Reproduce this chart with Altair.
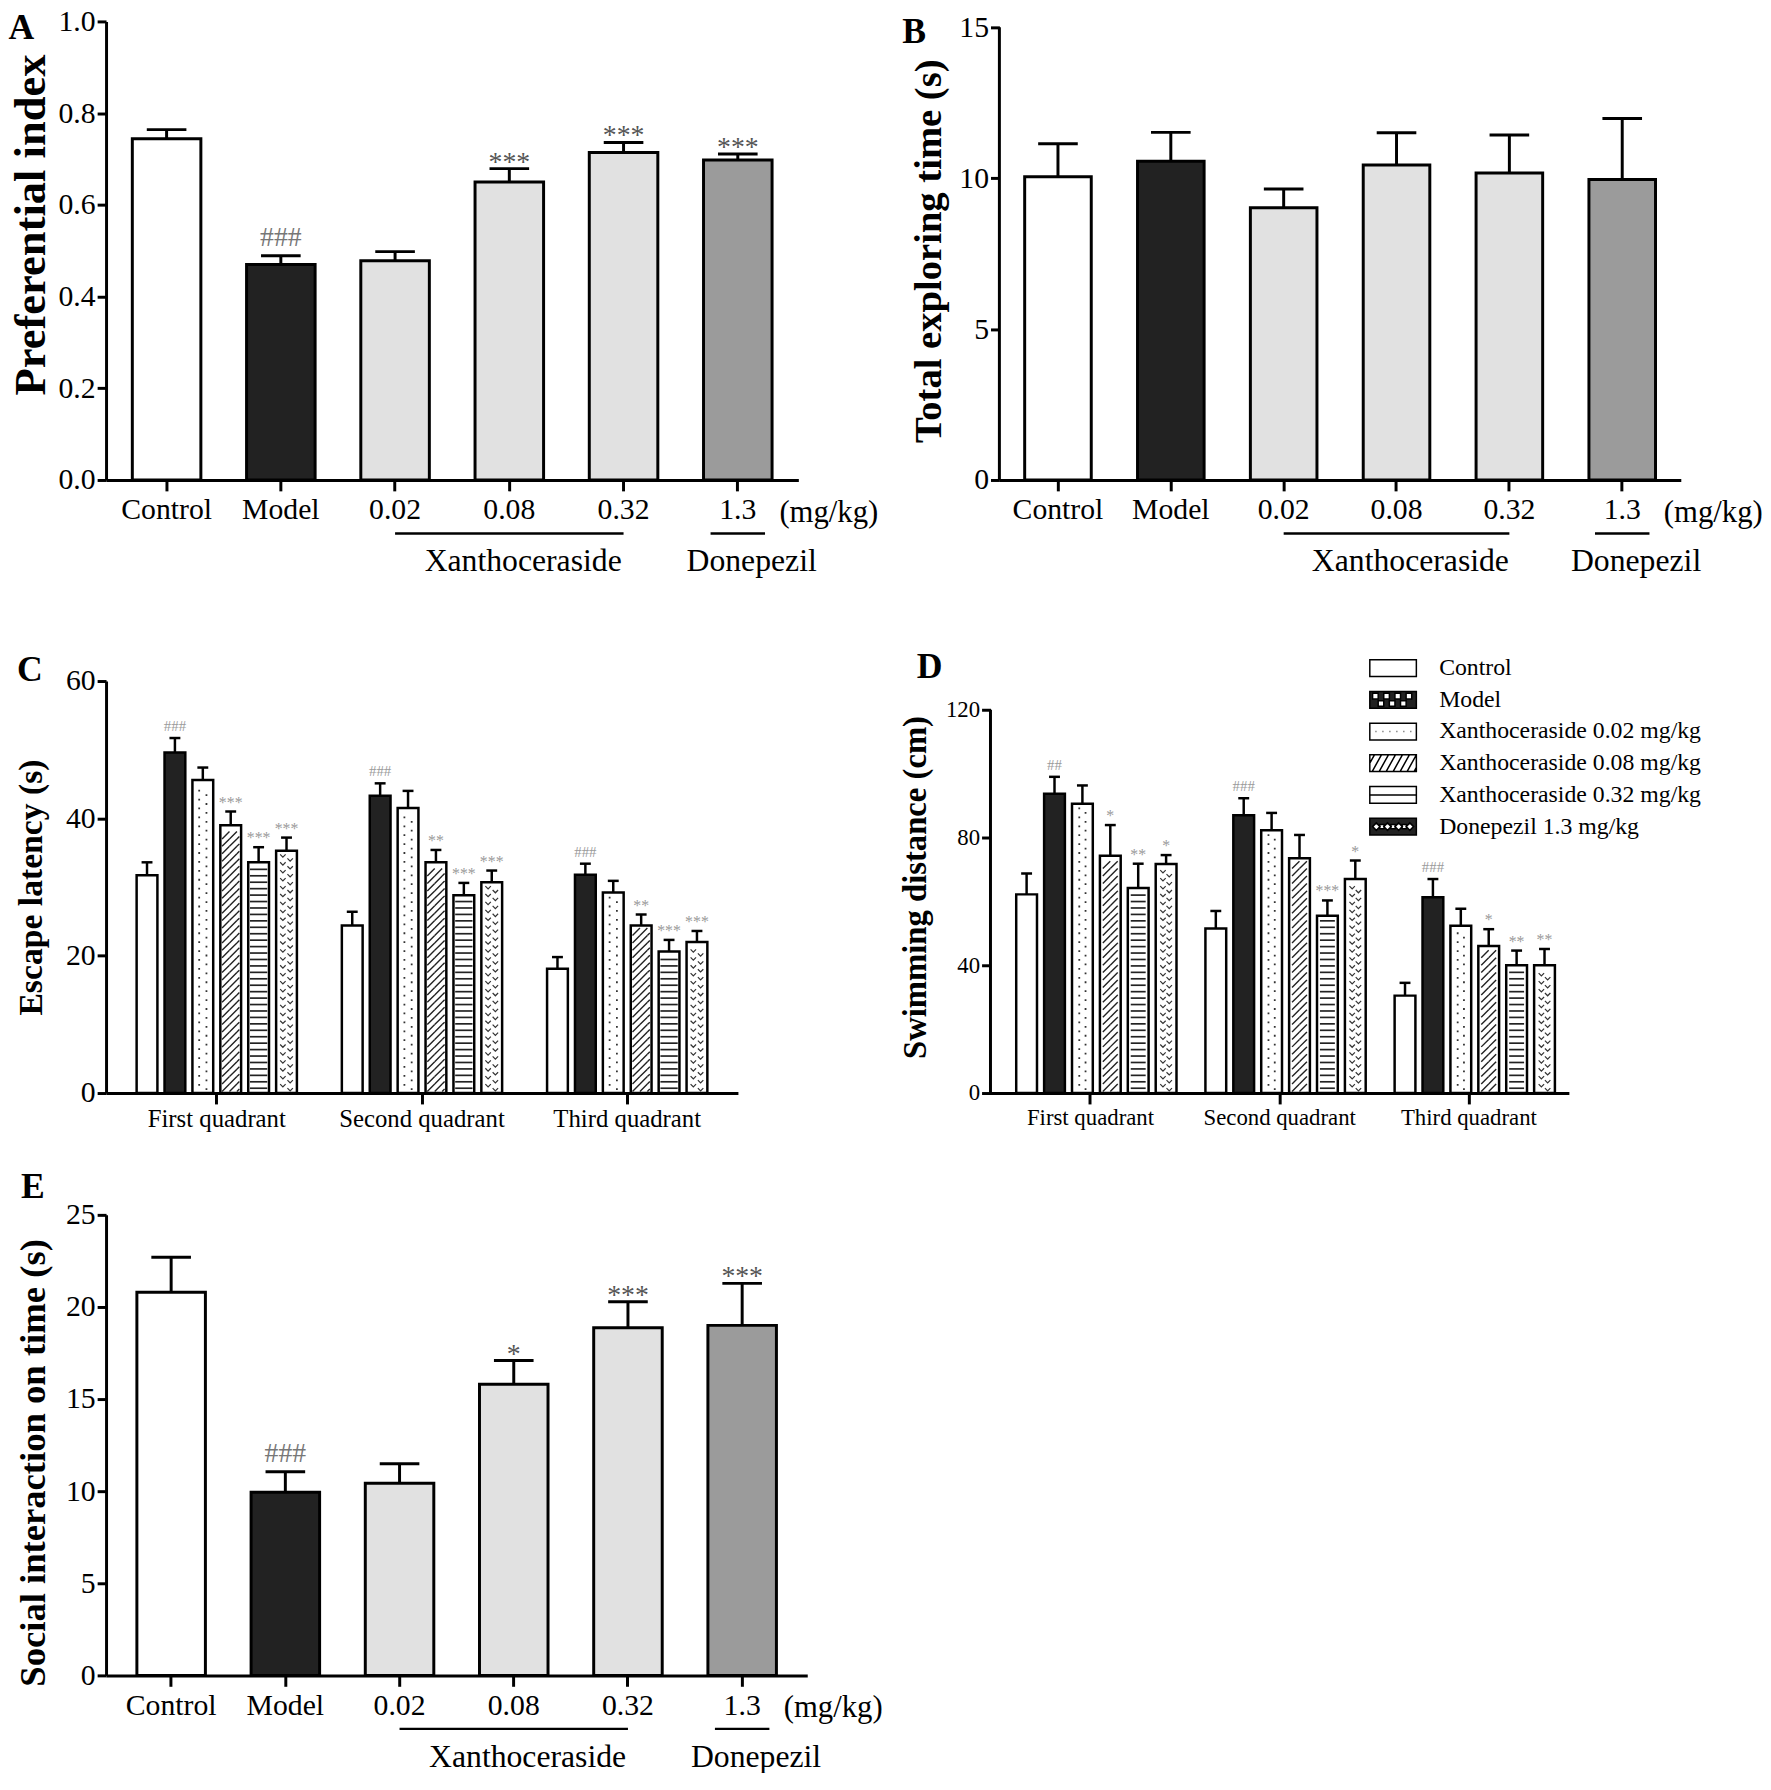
import altair as alt
import pandas as pd

SERIF = "Liberation Serif"

# ---------------- data: panels A, B, E ----------------
cats = ["Control", "Model", "0.02", "0.08", "0.32", "1.3"]
kinds = ["control", "model", "xan", "xan", "xan", "don"]
kind_keys = ["control", "model", "xan", "don"]
kind_fill = ["#ffffff", "#222222", "#e1e1e1", "#9b9b9b"]

a_mean = [0.744, 0.470, 0.478, 0.650, 0.714, 0.698]
a_err = [0.020, 0.019, 0.020, 0.029, 0.022, 0.013]
a_sig = ["", "###", "", "***", "***", "***"]

b_mean = [10.05, 10.56, 9.02, 10.44, 10.17, 9.96]
b_err = [1.09, 0.96, 0.62, 1.07, 1.26, 2.02]
b_sig = ["", "", "", "", "", ""]

e_mean = [20.80, 9.94, 10.43, 15.81, 18.87, 19.00]
e_err = [1.90, 1.12, 1.06, 1.28, 1.41, 2.28]
e_sig = ["", "###", "", "*", "***", "***"]

xan_span = ["0.02", "0.32"]
group_label_pos = ["0.08", "1.3"]
group_label_text = ["Xanthoceraside", "Donepezil"]
don_cat = "1.3"
unit_text = "(mg/kg)"

# ---------------- data: panels C, D ----------------
quadrants = ["First quadrant", "Second quadrant", "Third quadrant"]
groups = ["Control", "Model", "Xanthoceraside 0.02 mg/kg", "Xanthoceraside 0.08 mg/kg",
          "Xanthoceraside 0.32 mg/kg", "Donepezil 1.3 mg/kg"]
group_fill = ["#ffffff", "#222222", "#ffffff", "#ffffff", "#ffffff", "#ffffff"]
legend_fill = ["#ffffff", "#222222", "#ffffff", "#ffffff", "#ffffff", "#222222"]

c_mean = [[31.7, 24.4, 18.1], [49.6, 43.3, 31.8], [45.6, 41.5, 29.2],
          [39.0, 33.6, 24.4], [33.6, 28.8, 20.6], [35.3, 30.7, 22.0]]
c_err = [[1.9, 2.0, 1.7], [2.1, 1.8, 1.6], [1.8, 2.5, 1.7],
         [2.0, 1.8, 1.6], [2.2, 1.8, 1.7], [1.9, 1.7, 1.6]]
c_sig = [["", "", ""], ["###", "###", "###"], ["", "", ""],
         ["***", "**", "**"], ["***", "***", "***"], ["***", "***", "***"]]

d_mean = [[62.2, 51.5, 30.5], [93.7, 87.0, 61.3], [90.6, 82.3, 52.4],
          [74.3, 73.5, 46.0], [64.2, 55.5, 40.0], [71.7, 67.0, 40.0]]
d_err = [[6.5, 5.5, 4.0], [5.3, 5.3, 5.7], [5.7, 5.4, 5.3],
         [9.6, 7.3, 5.3], [7.6, 4.8, 4.6], [2.8, 5.8, 5.1]]
d_sig = [["", "", ""], ["##", "###", "###"], ["", "", ""],
         ["*", "", "*"], ["**", "***", "**"], ["*", "*", "**"]]


# ---------------- helpers ----------------
def y_axis(title, values, fmt, title_size, title_pad, label_size, domain=True, title_y=None):
    kw = {}
    if title_y is not None:
        kw["titleY"] = title_y
    return alt.Axis(title=title, values=values, format=fmt, grid=False, domain=domain,
                    titleFont=SERIF, titleFontSize=title_size, titleFontWeight="bold",
                    titleColor="black", titlePadding=title_pad,
                    labelFont=SERIF, labelFontSize=label_size, labelColor="black",
                    labelPadding=2, tickSize=9, tickWidth=3, tickColor="black",
                    domainWidth=3, domainColor="black", **kw)


def letter_title(letter, dx, dy):
    return alt.TitleParams(letter, anchor="start", frame="bounds", orient="top",
                           font=SERIF, fontSize=36, fontWeight="bold", color="black",
                           baseline="alphabetic", offset=0, dx=dx, dy=dy)


def axis_line(Y, ymax):
    # y axis line running from 0 up to the top tick only
    return alt.Chart(pd.DataFrame({"lo": [0], "hi": [ymax]})).mark_rule(
        color="black", strokeWidth=3).encode(x=alt.value(0), y=Y("lo"), y2=alt.Y2("hi"))


def simple_panel(letter, mean, err, sig, ytitle, ymax, dmax, yvalues, yfmt, W, H, pi, po,
                 title_size, title_pad, ldx, ldy, title_y=None):
    df = pd.DataFrame({"cat": cats, "kind": kinds, "mean": mean,
                       "top": [m + e for m, e in zip(mean, err)], "sig": sig})
    xscale = alt.Scale(domain=cats, paddingInner=pi, paddingOuter=po)
    xaxis = alt.Axis(title=None, labelAngle=0, labelFont=SERIF, labelFontSize=30,
                     labelColor="black", labelPadding=4, tickSize=11, tickWidth=3,
                     tickColor="black", domainWidth=3, domainColor="black", grid=False,
                     zindex=1)

    def X(f):
        return alt.X(f"{f}:N", sort=cats, scale=xscale, axis=xaxis)

    yscale = alt.Scale(domain=[0, dmax], nice=False)
    yaxis = y_axis(ytitle, yvalues, yfmt, title_size, title_pad, 30, domain=(dmax == ymax),
                   title_y=title_y)

    def Y(f):
        return alt.Y(f"{f}:Q", scale=yscale, axis=yaxis)

    base = alt.Chart(df)
    bars = base.mark_bar(stroke="black", strokeWidth=3).encode(
        x=X("cat"), y=Y("mean"),
        color=alt.Color("kind:N", scale=alt.Scale(domain=kind_keys, range=kind_fill), legend=None))
    errl = base.mark_rule(color="black", strokeWidth=3).encode(x=X("cat"), y=Y("mean"), y2=alt.Y2("top"))
    caps = base.mark_tick(orient="horizontal", size=40, thickness=3, color="black", opacity=1).encode(
        x=X("cat"), y=Y("top"))
    hashes = base.transform_filter("indexof(datum.sig, '#') >= 0").mark_text(
        font=SERIF, fontSize=28, color="#777777", baseline="alphabetic", dy=-10).encode(
        x=X("cat"), y=Y("top"), text="sig:N")
    stars = base.transform_filter("indexof(datum.sig, '*') >= 0").mark_text(
        font=SERIF, fontSize=28, color="#555555", baseline="alphabetic", dy=2).encode(
        x=X("cat"), y=Y("top"), text="sig:N")

    span = alt.Chart(pd.DataFrame({"start": [xan_span[0]], "end": [xan_span[1]]})).mark_rule(
        color="black", strokeWidth=2.5).encode(x=X("start"), x2=alt.X2("end"), y=alt.value(H + 54))
    don_line = alt.Chart(pd.DataFrame({"cat": [don_cat]})).mark_tick(
        orient="horizontal", size=55, thickness=2.5, color="black", opacity=1).encode(
        x=X("cat"), y=alt.value(H + 54))
    unit = alt.Chart(pd.DataFrame({"cat": [don_cat], "t": [unit_text]})).mark_text(
        font=SERIF, fontSize=31, align="left", baseline="middle", dx=42, color="black").encode(
        x=X("cat"), y=alt.value(H + 33), text="t:N")
    glab = alt.Chart(pd.DataFrame({"pos": group_label_pos, "label": group_label_text})).mark_text(
        font=SERIF, fontSize=32, baseline="middle", dx=14, color="black").encode(
        x=X("pos"), y=alt.value(H + 82), text="label:N")

    layers = [bars, errl, caps, hashes, stars, span, don_line, unit, glab]
    if dmax != ymax:
        layers.append(axis_line(Y, ymax))
    return alt.layer(*layers).properties(width=W, height=H, title=letter_title(letter, ldx, ldy))


# ---- pattern shapes (custom symbol paths in the [-1, 1] box) ----
def f3(v):
    return f"{v:.3f}"


def hatch_path(r, hpx):
    H = hpx / r
    parts = []
    x0 = -1 - H
    while x0 < 1:
        t0 = max(0.0, (-1 - x0) / H)
        t1 = min(1.0, (1 - x0) / H)
        if t1 > t0:
            xa, ya = x0 + t0 * H, H / 2 - t0 * H
            xb, yb = x0 + t1 * H, H / 2 - t1 * H
            parts.append(f"M{f3(xa)},{f3(ya)}L{f3(xb)},{f3(yb)}")
        x0 += H
    return "".join(parts)


def dots_path(r, hpx):
    H = hpx / r
    d = 1.8 / r
    pts = [(-0.42, -H / 4), (0.42, H / 4)]
    return "".join(f"M{f3(x - d / 2)},{f3(y - d / 2)}h{f3(d)}v{f3(d)}h{f3(-d)}Z" for x, y in pts)


def chev_path(r, hpx):
    H = hpx / r
    w = 5.5 / r
    hh = 2.8 / r
    pts = [(-0.42, -H / 4), (0.42, H / 4)]
    return "".join(
        f"M{f3(cx - w / 2)},{f3(cy - hh / 2)}L{f3(cx)},{f3(cy + hh / 2)}L{f3(cx + w / 2)},{f3(cy - hh / 2)}"
        for cx, cy in pts)


def legend_paths():
    a = 0.36
    rect = f"M-1,{-a}L1,{-a}L1,{a}L-1,{a}Z"
    holes = ""
    s = 0.24
    for x in [-0.88, -0.40, 0.08, 0.56]:
        holes += f"M{f3(x)},-0.28L{f3(x)},{f3(-0.28 + s)}L{f3(x + s)},{f3(-0.28 + s)}L{f3(x + s)},-0.28Z"
    for x in [-0.64, -0.16, 0.32]:
        holes += f"M{f3(x)},0.04L{f3(x)},{f3(0.04 + s)}L{f3(x + s)},{f3(0.04 + s)}L{f3(x + s)},0.04Z"
    model = rect + holes
    dots = rect + "".join(f"M{f3(x)},0L{f3(x + 0.03)},0" for x in [-0.75, -0.45, -0.15, 0.15, 0.45, 0.75])
    hatch = rect
    x = -1.2
    while x < 1.0:
        xa, ya, xb, yb = x, a, x + 0.4, -a
        if xa < -1:
            t = (-1 - xa) / 0.4
            xa, ya = -1, a - t * 2 * a
        if xb > 1:
            t = (1 - x) / 0.4
            xb, yb = 1, a - t * 2 * a
        hatch += f"M{f3(xa)},{f3(ya)}L{f3(xb)},{f3(yb)}"
        x += 0.3
    hl = rect + "M-1,0L1,0"
    dia = ""
    dd = 0.16
    for cx in [-0.72, -0.24, 0.24, 0.72]:
        dia += f"M{f3(cx)},{f3(-dd)}L{f3(cx - dd)},0L{f3(cx)},{f3(dd)}L{f3(cx + dd)},0Z"
    for cx in [-0.48, 0.0, 0.48]:
        e = 0.09
        dia += f"M{f3(cx - e)},{f3(-e)}L{f3(cx - e)},{f3(e)}L{f3(cx + e)},{f3(e)}L{f3(cx + e)},{f3(-e)}Z"
    don = rect + dia
    return [rect, model, dots, hatch, hl, don]


def grouped_panel(letter, mean, err, sig, ytitle, ymax, dmax, yvalues, W, H, pi, po, pi2,
                  title_size, title_pad, tick_label_size, cat_label_size, ldx, ldy, legend=None):
    rows = []
    for gi, g in enumerate(groups):
        for qi, q in enumerate(quadrants):
            rows.append({"quadrant": q, "group": g, "mean": mean[gi][qi],
                         "top": mean[gi][qi] + err[gi][qi], "sig": sig[gi][qi],
                         "half": mean[gi][qi] / 2})
    df = pd.DataFrame(rows)

    step = W / (3 - pi + 2 * po)
    band = step * (1 - pi)
    step2 = band / (6 - pi2)
    bw = step2 * (1 - pi2)
    pxu = H / dmax
    r = (bw - 3.5) / 2

    xscale = alt.Scale(domain=quadrants, paddingInner=pi, paddingOuter=po)
    xaxis = alt.Axis(title=None, labelAngle=0, labelFont=SERIF, labelFontSize=cat_label_size,
                     labelColor="black", labelPadding=3, tickSize=11, tickWidth=3,
                     tickColor="black", domainWidth=3, domainColor="black", grid=False, zindex=1)
    oscale = alt.Scale(domain=groups, paddingInner=pi2, paddingOuter=0)
    yscale = alt.Scale(domain=[0, dmax], nice=False)
    yaxis = y_axis(ytitle, yvalues, "d", title_size, title_pad, tick_label_size, domain=(dmax == ymax))

    def enc(ch):
        return ch.encode(x=alt.X("quadrant:N", sort=quadrants, scale=xscale, axis=xaxis),
                         xOffset=alt.XOffset("group:N", sort=groups, scale=oscale))

    def Y(f):
        return alt.Y(f"{f}:Q", scale=yscale, axis=yaxis)

    base = alt.Chart(df)
    layers = []
    if legend is not None:
        leg = enc(base.transform_filter(f"datum.quadrant == '{quadrants[0]}'").mark_point(
            filled=True, size=30, strokeWidth=1.5, opacity=1)).encode(
            y=Y("half"),
            fill=alt.Fill("group:N", sort=groups, scale=alt.Scale(domain=groups, range=legend_fill), legend=legend),
            stroke=alt.Stroke("group:N", sort=groups, scale=alt.Scale(domain=groups, range=["#000000"] * 6), legend=legend),
            shape=alt.Shape("group:N", sort=groups, scale=alt.Scale(domain=groups, range=legend_paths()), legend=legend))
        layers.append(leg)

    bars = enc(base.mark_bar(stroke="black", strokeWidth=2.5)).encode(
        y=Y("mean"),
        color=alt.Color("group:N", scale=alt.Scale(domain=groups, range=group_fill), legend=None))
    layers.append(bars)

    # pattern fills drawn from each bar's value
    pattern_spec = [
        (groups[2], dots_path, 9.0, dict(filled=True, color="#333333", strokeWidth=0)),
        (groups[3], hatch_path, 7.5, dict(filled=False, color="#222222", strokeWidth=1.4)),
        (groups[4], lambda rr, h: "M-1,0L1,0", 6.5, dict(filled=False, color="#222222", strokeWidth=1.7)),
        (groups[5], chev_path, 8.0, dict(filled=False, color="#333333", strokeWidth=1.2)),
    ]
    for g, fn, hpx, style in pattern_spec:
        stepd = hpx / pxu
        off = 1.6 / pxu
        prow = []
        for _, rw in df[df.group == g].iterrows():
            k = 0
            while (k + 1) * stepd + off <= rw["mean"] - 1.6 / pxu:
                prow.append({"quadrant": rw["quadrant"], "group": g, "y": (k + 0.5) * stepd + off})
                k += 1
        pch = alt.Chart(pd.DataFrame(prow)).mark_point(
            shape=fn(r, hpx), size=(2 * r) ** 2, opacity=1, **style)
        layers.append(enc(pch).encode(y=Y("y")))

    errl = enc(base.mark_rule(color="black", strokeWidth=2.5)).encode(y=Y("mean"), y2=alt.Y2("top"))
    caps = enc(base.mark_tick(orient="horizontal", size=11, thickness=2.5, color="black", opacity=1)).encode(
        y=Y("top"))
    hashes = enc(base.transform_filter("indexof(datum.sig, '#') >= 0").mark_text(
        font=SERIF, fontSize=15, color="#9a9a9a", baseline="alphabetic", dy=-7)).encode(
        y=Y("top"), text="sig:N")
    stars = enc(base.transform_filter("indexof(datum.sig, '*') >= 0").mark_text(
        font=SERIF, fontSize=16, color="#9a9a9a", baseline="alphabetic", dy=-4)).encode(
        y=Y("top"), text="sig:N")
    layers += [errl, caps, hashes, stars]
    if dmax != ymax:
        layers.append(axis_line(Y, ymax))

    return alt.layer(*layers).properties(width=W, height=H, title=letter_title(letter, ldx, ldy))


def independent(ch):
    return ch.resolve_scale(color="independent", fill="independent", shape="independent",
                            stroke="independent").resolve_legend(
        color="independent", fill="independent", shape="independent", stroke="independent")


# ---------------- panels ----------------
A = simple_panel("A", a_mean, a_err, a_sig, "Preferential index", 1.0, 1.0,
                 [0, 0.2, 0.4, 0.6, 0.8, 1.0], ".1f", 699, 463, 0.40, 0.23, 45, 5, 0, 69,
                 title_y=205)
B = simple_panel("B", b_mean, b_err, b_sig, "Total exploring time (s)", 15, 15 * 463 / 457,
                 [0, 5, 10, 15], "d", 688, 463, 0.41, 0.224, 39, 10, -8, 67)
E = simple_panel("E", e_mean, e_err, e_sig, "Social interaction on time (s)", 25, 25,
                 [0, 5, 10, 15, 20, 25], "d", 708, 465, 0.40, 0.27, 37, 13, 6, 34,
                 title_y=250)

d_legend = alt.Legend(title=None, orient="none", legendX=382, legendY=-24,
                      labelFont=SERIF, labelFontSize=24, labelColor="black", labelLimit=0,
                      symbolSize=2209, symbolStrokeWidth=1.5,
                      clipHeight=22, rowPadding=8, labelOffset=22, symbolOffset=0, padding=0)

C = grouped_panel("C", c_mean, c_err, c_sig, "Escape latency (s)", 60, 60, [0, 20, 40, 60],
                  638, 416, 0.219, 0.149, 0.255, 34, 17, 30, 25, 2, 51)
D = grouped_panel("D", d_mean, d_err, d_sig, "Swimming distance (cm)", 120, 120 * 416 / 387,
                  [0, 40, 80, 120], 584, 416, 0.215, 0.136, 0.293, 33, 13, 23, 23, 17, 57,
                  legend=d_legend)

row1 = independent(alt.hconcat(A, B, spacing=24))
row2 = independent(alt.hconcat(C, D, spacing=163))
upper = independent(alt.vconcat(row1, row2, spacing=73))
chart = independent(alt.vconcat(upper, E, spacing=38)).properties(
    padding={"top": -10, "bottom": -8, "left": 0, "right": 0},
    background="white").configure_view(stroke=None)

chart.save("out.html", embed_options={"renderer": "svg", "actions": False})
